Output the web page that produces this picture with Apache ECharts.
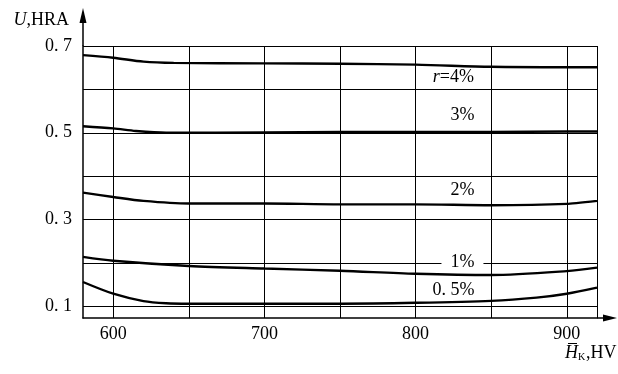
<!DOCTYPE html>
<html><head><meta charset="utf-8">
<script src="https://cdn.jsdelivr.net/npm/echarts@6/dist/echarts.min.js"></script>
<style>html,body{margin:0;padding:0;background:#fff}#c{width:618px;height:374px}</style>
</head><body><div id="c"></div>
<script>
// ---- data ----
const xGridValues = [600, 650, 700, 750, 800, 850, 900, 920];
const xTickLabels = [600, 700, 800, 900];
const yGridValues = [0.1, 0.2, 0.3, 0.4, 0.5, 0.6, 0.7];
const yTickLabels = [0.1, 0.3, 0.5, 0.7];
const curveNames = ['r=4%', '3%', '2%', '1%', '0. 5%'];
const curveR4 = [[580,0.679],[600,0.673],[620,0.664],[640,0.661],[700,0.660],[750,0.659],[800,0.657],[850,0.652],[900,0.651],[920,0.651]];
const curveR3 = [[580,0.515],[600,0.510],[615,0.504],[635,0.500],[700,0.501],[800,0.502],[850,0.502],[900,0.503],[920,0.503]];
const curveR2 = [[580,0.362],[600,0.352],[620,0.343],[650,0.337],[700,0.337],[750,0.335],[800,0.335],[850,0.333],[900,0.336],[920,0.343]];
const curveR1 = [[580,0.214],[600,0.205],[650,0.193],[700,0.187],[750,0.182],[800,0.175],[850,0.172],[900,0.181],[920,0.189]];
const curveR05 = [[580,0.156],[600,0.129],[620,0.112],[635,0.107],[650,0.106],[700,0.106],[750,0.106],[800,0.108],[850,0.1125],[880,0.12],[900,0.129],[920,0.143]];
const curves = [curveR4, curveR3, curveR2, curveR1, curveR05];
const labelAnchors = [[825,0.628],[831,0.540],[831,0.368],[831,0.2016],[825,0.137]];

const FONT = '"Liberation Serif","DejaVu Serif",serif';
const chart = echarts.init(document.getElementById('c'), null, {renderer: 'canvas'});

const series = curves.map((d, i) => ({
  type: 'line',
  name: curveNames[i],
  data: d,
  showSymbol: false,
  smooth: 0.3,
  clip: false,
  silent: true,
  lineStyle: {color: '#000', width: 2.4},
  markPoint: {
    symbol: 'circle', symbolSize: 0, silent: true,
    data: [{coord: labelAnchors[i], name: curveNames[i]}],
    label: {
      show: true, position: 'inside', color: '#000', fontFamily: FONT, fontSize: 18,
      formatter: i === 0 ? '{i|r}=4%' : curveNames[i],
      backgroundColor: i === 3 ? '#fff' : 'transparent',
      padding: i === 3 ? [0, 9] : 0,
      rich: {i: {fontStyle: 'italic', fontFamily: FONT, fontSize: 18, color: '#000'}}
    }
  }
}));

chart.setOption({
  animation: false,
  backgroundColor: '#fff',
  grid: {left: 83, right: 21, top: 46, bottom: 56, containLabel: false},
  xAxis: {
    type: 'value', min: 580, max: 920,
    axisLine: {show: true, lineStyle: {color: '#000', width: 1.5}},
    axisTick: {show: false, customValues: xGridValues},
    axisLabel: {customValues: xTickLabels, color: '#000', fontFamily: FONT, fontSize: 18, margin: 7},
    splitLine: {show: true, lineStyle: {color: '#000', width: 1}}
  },
  yAxis: {
    type: 'value', min: 0.073, max: 0.7,
    axisLine: {show: true, lineStyle: {color: '#000', width: 1.5}},
    axisTick: {show: false, customValues: yGridValues},
    axisLabel: {customValues: yTickLabels, color: '#000', fontFamily: FONT, fontSize: 18, margin: 11,
      formatter: v => v.toFixed(1).replace('.', '. ')},
    splitLine: {show: true, lineStyle: {color: '#000', width: 1}}
  },
  series: series
});

// axis arrows and names (decorations)
const o = chart.convertToPixel({gridIndex: 0}, [580, 0.073]);
const tr = chart.convertToPixel({gridIndex: 0}, [920, 0.7]);
const ax = o[0], ay = o[1];
chart.setOption({
  graphic: [
    {type: 'line', shape: {x1: ax, y1: tr[1], x2: ax, y2: 14}, style: {stroke: '#000', lineWidth: 1.5}, silent: true},
    {type: 'polygon', shape: {points: [[ax, 8], [ax - 3.5, 23], [ax + 3.5, 23]]}, style: {fill: '#000'}, silent: true},
    {type: 'line', shape: {x1: tr[0], y1: ay, x2: 610, y2: ay}, style: {stroke: '#000', lineWidth: 1.5}, silent: true},
    {type: 'polygon', shape: {points: [[617, ay], [603, ay - 3.5], [603, ay + 3.5]]}, style: {fill: '#000'}, silent: true},
    {type: 'text', x: 69, y: 20, silent: true,
      style: {text: '{i|U},HRA', align: 'right', verticalAlign: 'middle', fontFamily: FONT, fontSize: 18, fill: '#000',
        rich: {i: {fontStyle: 'italic', fontFamily: FONT, fontSize: 18, fill: '#000'}}}},
    {type: 'text', x: 565, y: 362, silent: true,
      style: {text: 'H', align: 'left', verticalAlign: 'bottom', fontFamily: FONT, fontStyle: 'italic', fontSize: 18, fill: '#000'}},
    {type: 'line', shape: {x1: 568, y1: 343.5, x2: 577, y2: 343.5}, style: {stroke: '#000', lineWidth: 1}, silent: true},
    {type: 'text', x: 578, y: 362, silent: true,
      style: {text: 'K', align: 'left', verticalAlign: 'bottom', fontFamily: FONT, fontSize: 10, fill: '#000'}},
    {type: 'text', x: 586, y: 362, silent: true,
      style: {text: ',HV', align: 'left', verticalAlign: 'bottom', fontFamily: FONT, fontSize: 18, fill: '#000'}}
  ]
});
</script>
</body></html>
